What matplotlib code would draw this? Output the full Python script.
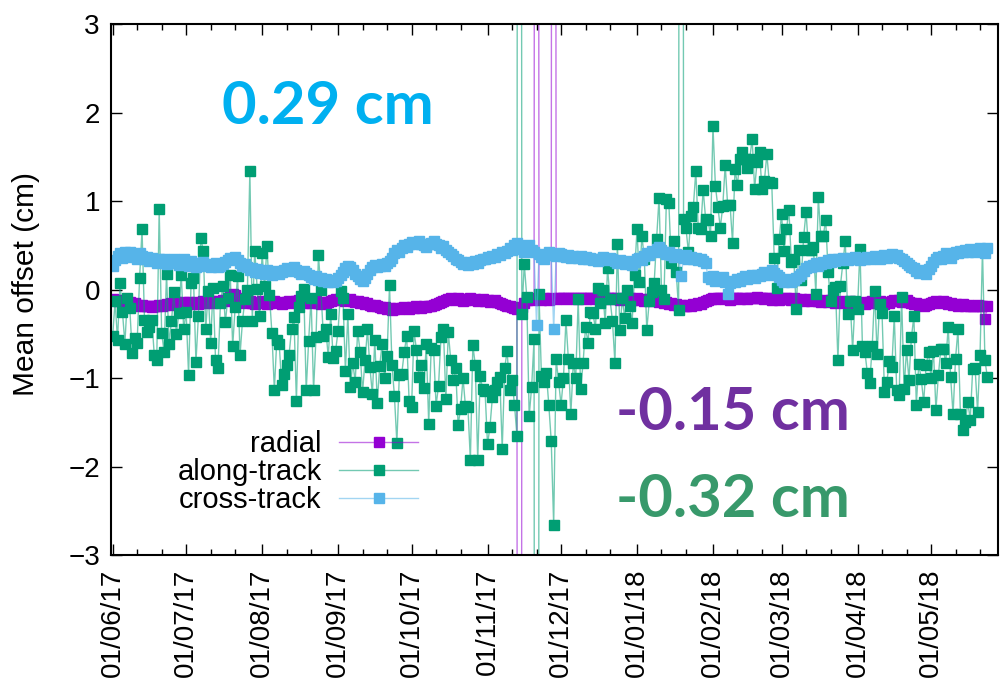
import numpy as np
import matplotlib.pyplot as plt
import matplotlib.dates as mdates
from matplotlib.colors import to_rgba

plt.rcParams['font.family'] = ['Liberation Sans', 'DejaVu Sans']

# Daily mean offsets (cm), one value per day starting 2017-06-01
start = np.datetime64('2017-06-01')

radial = [
    -0.11, -0.12, -0.13, -0.12, -0.14, -0.13, -0.15, -0.14, -0.16, -0.15,
    -0.17, -0.18, -0.17, -0.19, -0.18, -0.19, -0.20, -0.18, -0.19, -0.17,
    -0.18, -0.17, -0.16, -0.17, -0.15, -0.16, -0.14, -0.15, -0.16, -0.14,
    -0.15, -0.14, -0.16, -0.15, -0.14, -0.16, -0.15, -0.13, -0.15, -0.14,
    -0.13, -0.15, -0.14, -0.13, -0.14, -0.12, -0.13, -0.10, -0.07, -0.05,
    -0.06, -0.09, -0.12, -0.13, -0.15, -0.14, -0.13, -0.15, -0.16, -0.14,
    -0.15, -0.13, -0.14, -0.16, -0.15, -0.14, -0.13, -0.15, -0.14, -0.16,
    -0.15, -0.14, -0.13, -0.14, -0.15, -0.13, -0.12, -0.14, -0.15, -0.14,
    -0.13, -0.15, -0.14, -0.13, -0.15, -0.16, -0.14, -0.15, -0.14, -0.13,
    -0.12, -0.11, -0.12, -0.10, -0.11, -0.13, -0.12, -0.11, -0.13, -0.14,
    -0.13, -0.15, -0.14, -0.16, -0.15, -0.17, -0.18, -0.17, -0.19, -0.20,
    -0.21, -0.20, -0.22, -0.21, -0.23, -0.22, -0.21, -0.22, -0.21, -0.20,
    -0.21, -0.22, -0.20, -0.21, -0.19, -0.20, -0.21, -0.19, -0.20, -0.18,
    -0.19, -0.17, -0.16, -0.15, -0.14, -0.13, -0.12, -0.11, -0.10, -0.11,
    -0.12, -0.10, -0.11, -0.13, -0.12, -0.11, -0.10, -0.12, -0.11, -0.13,
    -0.12, -0.11, -0.13, -0.12, -0.14, -0.13, -0.12, -0.14, -0.15, -0.16,
    -0.17, -0.18, -0.19, -0.20, -0.21, -0.22, -40.0, -0.20, -0.15, -0.12,
    -0.11, -0.12, -0.10, 40.0, -0.11, -0.12, -0.10, -0.11, -0.12, -0.10,
    40.0, -0.11, -0.10, -0.09, -0.10, -0.11, -0.10, -0.09, -0.10, -0.11,
    -0.10, -0.09, -0.10, -0.11, -0.10, -0.09, -0.10, -0.11, -0.10, -0.09,
    -0.10, -0.11, -0.10, -0.09, -0.10, -0.11, -0.10, -0.12, -0.11, -0.10,
    -0.11, -0.10, -0.12, -0.11, -0.10, -0.12, -0.11, -0.13, -0.12, -0.11,
    -0.12, -0.13, -0.12, -0.14, -0.13, -0.15, -0.14, -0.16, -0.15, -0.17,
    -0.16, -0.18, -0.17, -0.19, -0.18, -0.17, -0.18, -0.16, -0.17, -0.15,
    -0.16, -0.14, -0.13, -0.12, -0.11, -0.10, -0.11, -0.10, -0.09, -0.10,
    -0.11, -0.10, -0.12, -0.10, -0.09, -0.10, -0.11, -0.10, -0.09, -0.11,
    -0.10, -0.09, -0.10, -0.08, -0.09, -0.10, -0.11, -0.09, -0.10, -0.12,
    -0.11, -0.10, -0.12, -0.11, -0.10, -0.09, -0.11, -0.12, -0.10, -0.11,
    -0.12, -0.11, -0.13, -0.12, -0.11, -0.13, -0.12, -0.11, -0.13, -0.14,
    -0.12, -0.13, -0.14, -0.12, -0.13, -0.15, -0.14, -0.13, -0.14, -0.15,
    -0.14, -0.13, -0.15, -0.14, -0.16, -0.15, -0.14, -0.16, -0.15, -0.14,
    -0.13, -0.15, -0.14, -0.13, -0.15, -0.16, -0.14, -0.15, -0.13, -0.12,
    -0.13, -0.12, -0.14, -0.13, -0.12, -0.14, -0.15, -0.16, -0.15, -0.17,
    -0.16, -0.18, -0.17, -0.16, -0.15, -0.14, -0.13, -0.14, -0.15, -0.13,
    -0.14, -0.16, -0.15, -0.17, -0.16, -0.18, -0.17, -0.16, -0.18, -0.17,
    -0.18, -0.19, -0.18, -0.17, -0.19, -0.18, -0.33, -0.19,
]

along_track = [
    -0.53, -0.13, -0.57, 0.07, -0.25, -0.61, -0.10, -0.21, -0.72, -0.55,
    -0.60, 0.13, 0.68, -0.34, -0.48, -0.42, -0.34, -0.74, -0.80, 0.91,
    -0.49, -0.70, 0.18, -0.61, -0.36, -0.03, -0.50, -0.27, 0.17, -0.45,
    -0.25, -0.97, 0.07, 0.13, -0.82, -0.30, 0.58, 0.44, -0.45, -0.02,
    -0.60, 0.02, -0.80, -0.89, -0.15, 0.04, -0.37, -0.10, 0.17, -0.64,
    -0.20, 0.15, -0.74, -0.35, -0.11, 0.00, 1.34, -0.35, 0.44, 0.01,
    -0.30, 0.41, 0.04, 0.49, -0.06, -0.49, -1.13, -0.57, -0.62, -1.08,
    -0.95, -0.85, -0.74, -0.45, -0.31, -1.26, -0.20, -0.07, 0.01, -1.14,
    -0.58, -0.09, -1.14, -0.54, 0.39, -0.01, -0.52, -0.45, -0.76, -0.28,
    -0.77, -0.69, -0.47, -0.02, -0.09, -0.92, -0.28, -1.10, -0.83, -1.04,
    -0.47, -0.70, -1.16, -0.80, -0.45, -0.88, -1.18, -0.57, -1.28, -0.86,
    -0.61, -1.00, -0.75, 0.05, -0.85, -1.20, -1.73, -0.97, -0.95, -0.71,
    -0.52, -1.26, -1.33, -0.47, -0.68, -0.99, -0.85, -1.11, -0.62, -1.52,
    -0.66, -0.68, -1.31, -1.09, -0.54, -0.45, -1.24, -0.48, -0.80, -1.02,
    -0.89, -1.53, -1.35, -1.00, -1.32, -1.33, -1.93, -0.63, -0.85, -1.93,
    -0.98, -1.12, -1.15, -1.75, -1.55, -1.21, -1.14, -1.04, -0.99, -1.80,
    -0.89, -0.69, -1.13, -1.02, -1.30, -1.65, 40.0, -0.28, 0.29, -0.08,
    -1.43, -1.10, -0.56, -40.0, -0.05, -0.98, -1.04, -0.94, -1.30, -1.71,
    -2.66, -0.78, -1.04, -1.30, -1.00, -0.34, -0.79, -1.41, -0.83, -1.00,
    -0.11, -1.12, -0.83, -0.42, -0.60, -0.25, -0.26, -0.44, 0.02, -0.15,
    0.00, -0.38, 0.24, -0.11, -0.36, -0.83, 0.52, -0.46, -0.10, -0.32,
    -0.01, -0.18, -0.38, 0.17, 0.68, 0.08, 0.61, 0.35, -0.46, -0.13,
    -0.03, 0.07, 0.57, 1.04, 0.00, -0.11, 1.02, 0.98, 0.30, 0.55,
    0.20, -0.23, 40.0, 0.80, 0.69, 0.42, 0.83, 0.93, 1.34, 0.69,
    0.68, 1.13, 0.80, 0.79, 0.60, 1.85, 1.17, 0.93, 0.70, 0.94,
    1.41, 0.95, 0.95, 0.53, 1.36, 1.18, 1.48, 1.55, 1.48, 1.37,
    1.48, 1.70, 1.14, 1.44, 1.55, 1.14, 1.23, 1.53, 1.21, 1.20,
    0.36, 0.02, 0.57, 0.85, 0.44, 0.68, 0.90, 0.31, 0.34, -0.22,
    0.45, 0.11, 0.59, 0.88, 0.45, 0.45, 0.48, -0.05, 1.05, 0.60,
    0.60, 0.79, 0.20, -0.13, 0.00, 0.03, -0.80, 0.04, 0.30, 0.55,
    -0.28, -0.13, -0.68, -0.13, -0.22, 0.46, -0.64, -0.70, -0.94, -1.05,
    -0.64, -0.02, -0.73, -0.16, -0.26, -1.16, -1.04, -0.81, -0.88, -0.30,
    -1.14, -1.19, -0.08, -1.12, -0.68, -1.02, -0.54, -0.30, -1.30, -0.84,
    -1.01, -1.27, -0.85, -0.71, -1.00, -0.69, -1.36, -0.97, -0.67, -0.67,
    -0.83, -0.42, -0.99, -1.41, -0.78, -0.45, -1.41, -1.59, -1.50, -1.27,
    -1.47, -0.90, -0.89, -1.38, -0.74, 0.46, -0.80, -0.99,
]

cross_track = [
    0.27, 0.33, 0.38, 0.41, 0.36, 0.42, 0.39, 0.43, 0.37, 0.40,
    0.35, 0.41, 0.38, 0.34, 0.37, 0.32, 0.36, 0.33, 0.30, 0.35,
    0.31, 0.34, 0.29, 0.33, 0.30, 0.35, 0.32, 0.28, 0.31, 0.34,
    0.30, 0.27, 0.32, 0.29, 0.26, 0.30, 0.28, 0.31, 0.27, 0.29,
    0.25, 0.28, 0.30, 0.26, 0.27, 0.29, 0.31, 0.33, 0.36, 0.34,
    0.37, 0.33, 0.30, 0.27, 0.29, 0.25, 0.22, 0.24, 0.20, 0.23,
    0.19, 0.21, 0.18, 0.22, 0.20, 0.17, 0.19, 0.21, 0.18, 0.20,
    0.22, 0.24, 0.21, 0.23, 0.25, 0.22, 0.20, 0.18, 0.21, 0.19,
    0.16, 0.14, 0.12, 0.15, 0.11, 0.13, 0.10, 0.12, 0.09, 0.11,
    0.08, 0.10, 0.13, 0.17, 0.20, 0.24, 0.27, 0.25, 0.22, 0.18,
    0.15, 0.12, 0.10, 0.13, 0.18, 0.22, 0.26, 0.28, 0.25, 0.27,
    0.29, 0.27, 0.30, 0.32, 0.36, 0.41, 0.45, 0.43, 0.47, 0.50,
    0.48, 0.52, 0.54, 0.51, 0.53, 0.55, 0.52, 0.50, 0.48, 0.51,
    0.53, 0.55, 0.52, 0.50, 0.47, 0.49, 0.45, 0.43, 0.40, 0.38,
    0.35, 0.33, 0.31, 0.29, 0.30, 0.28, 0.31, 0.29, 0.32, 0.30,
    0.33, 0.35, 0.34, 0.37, 0.36, 0.38, 0.37, 0.40, 0.39, 0.42,
    0.41, 0.44, 0.47, 0.45, 0.50, 0.53, 0.50, 0.46, 0.43, 0.47,
    0.50, 0.45, 0.42, -0.40, 0.40, 0.37, 0.35, 0.39, 0.42, 0.40,
    -0.45, 0.38, 0.41, 0.40, 0.38, 0.37, 0.39, 0.36, 0.38, 0.37,
    0.36, 0.38, 0.35, 0.37, 0.34, 0.36, 0.33, 0.35, 0.32, 0.34,
    0.37, 0.35, 0.33, 0.36, 0.34, 0.32, 0.30, 0.33, 0.31, 0.29,
    0.32, 0.30, 0.28, 0.31, 0.34, 0.36, 0.33, 0.38, 0.41, 0.39,
    0.44, 0.42, 0.46, 0.48, 0.45, 0.43, 0.40, 0.42, 0.39, 0.37,
    0.40, 0.38, 0.15, 0.36, 0.39, 0.35, 0.37, 0.34, 0.36, 0.33,
    0.35, 0.32, 0.30, 0.14, 0.12, 0.15, 0.10, 0.13, 0.11, 0.14,
    0.09, -0.05, 0.07, 0.10, 0.08, 0.12, 0.10, 0.13, 0.15, 0.12,
    0.14, 0.16, 0.13, 0.17, 0.15, 0.18, 0.20, 0.17, 0.19, 0.22,
    0.19, 0.16, 0.14, 0.11, 0.09, 0.12, 0.10, 0.08, 0.11, 0.13,
    0.15, 0.18, 0.21, 0.24, 0.27, 0.25, 0.28, 0.30, 0.27, 0.29,
    0.31, 0.30, 0.33, 0.31, 0.34, 0.32, 0.35, 0.33, 0.36, 0.34,
    0.33, 0.36, 0.34, 0.37, 0.35, 0.33, 0.36, 0.34, 0.37, 0.35,
    0.36, 0.38, 0.36, 0.35, 0.37, 0.39, 0.36, 0.38, 0.40, 0.37,
    0.39, 0.36, 0.34, 0.32, 0.30, 0.28, 0.26, 0.24, 0.21, 0.19,
    0.22, 0.20, 0.18, 0.23, 0.27, 0.31, 0.34, 0.37, 0.35, 0.38,
    0.41, 0.39, 0.36, 0.40, 0.43, 0.41, 0.44, 0.42, 0.45, 0.43,
    0.46, 0.44, 0.42, 0.45, 0.47, 0.45, 0.41, 0.47,
]

days = start + np.arange(len(radial))

series = [
    ('radial', radial, '#9400D3'),
    ('along-track', along_track, '#009E73'),
    ('cross-track', cross_track, '#56B4E9'),
]

fig = plt.figure(figsize=(10, 6.87), dpi=100)
ax = fig.add_axes([0.111, 0.192, 0.887, 0.773])

for name, vals, col in series:
    ax.plot(days, vals, color=to_rgba(col, 0.55), lw=1.0,
            marker='s', ms=6.8, mfc=col, mec=col, label=name)

ax.set_ylim(-3, 3)
ax.set_xlim(np.datetime64('2017-05-31T08:00'), np.datetime64('2018-05-28T08:00'))
ax.set_yticks(range(-3, 4))

ax.xaxis.set_major_locator(mdates.MonthLocator())
ax.xaxis.set_minor_locator(mdates.DayLocator(bymonthday=[11, 21]))
ax.xaxis.set_major_formatter(mdates.DateFormatter('%d/%m/%y'))

ax.tick_params(which='both', direction='in', top=True, right=True, width=1)
ax.tick_params(which='major', length=8, labelsize=20)
ax.tick_params(axis='x', which='major', pad=10, labelrotation=90)
ax.tick_params(axis='y', which='major', pad=8)
ax.tick_params(which='minor', length=4)
for sp in ax.spines.values():
    sp.set_linewidth(1.5)

ax.set_ylabel('Mean offset (cm)', fontsize=21.5)
ax.yaxis.set_label_coords(-0.08, 0.51)

ax.legend(loc='lower right', bbox_to_anchor=(0.346, 0.077), frameon=False,
          markerfirst=False, fontsize=21, handlelength=2.7, handletextpad=0.6,
          labelspacing=0.0, borderpad=0, borderaxespad=0)

# mean values of each component
big = dict(fontsize=43, fontweight='bold', family=['Lato', 'DejaVu Sans'],
           transform=ax.transAxes, ha='center', va='baseline')
ax.text(0.245, 0.812, '0.29 cm', color='#00B0F0', **big)
ax.text(0.701, 0.236, '-0.15 cm', color='#7030A0', **big)
ax.text(0.701, 0.072, '-0.32 cm', color='#38996B', **big)

fig.savefig('out.png', dpi=100)
